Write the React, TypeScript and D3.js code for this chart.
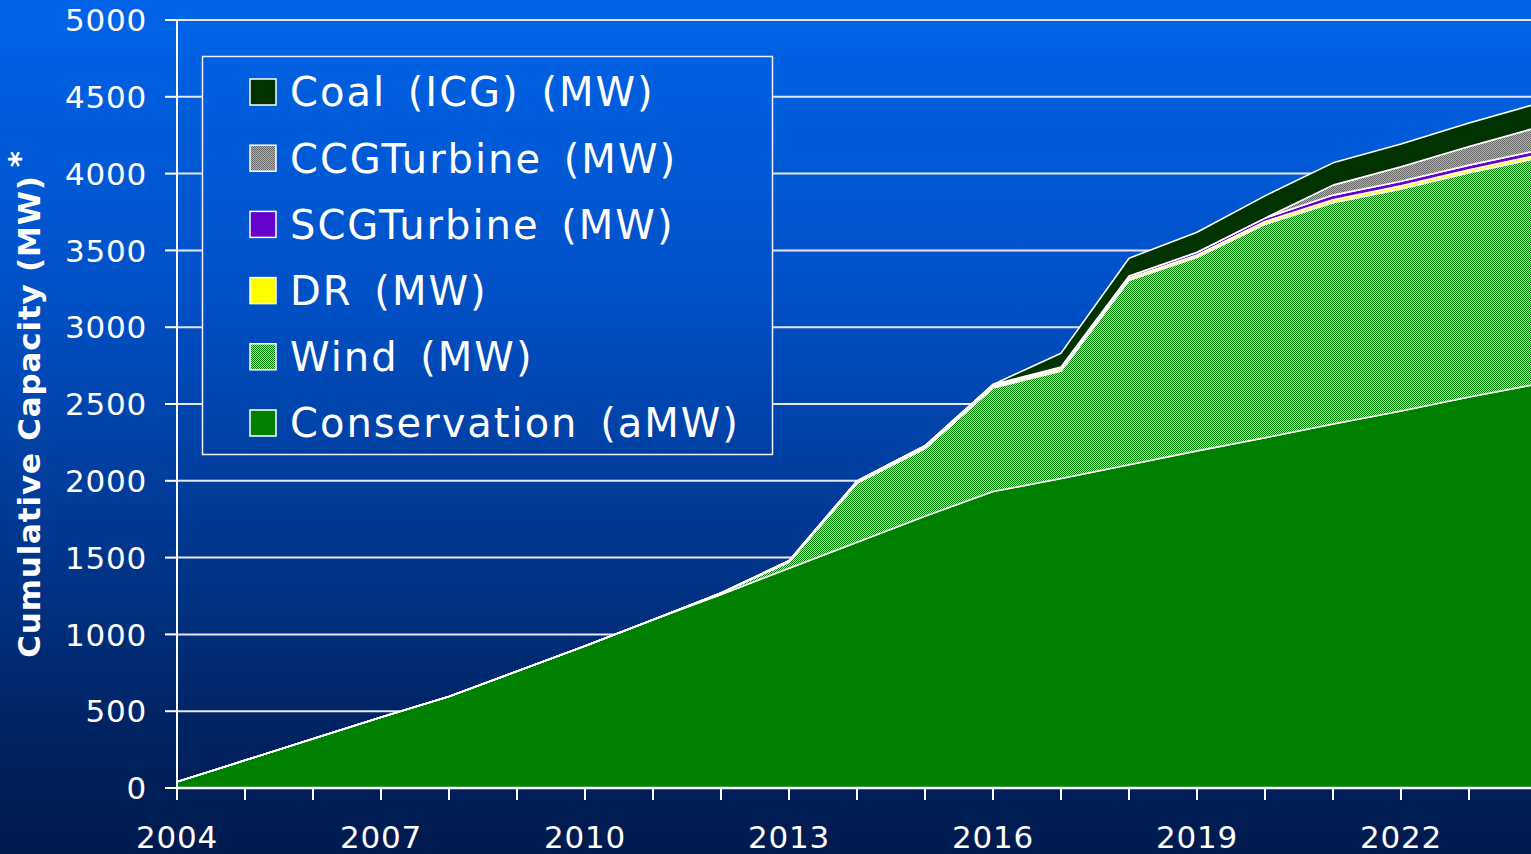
import React from "react";
import * as d3 from "d3";

const years = [2004, 2005, 2006, 2007, 2008, 2009, 2010, 2011, 2012, 2013, 2014, 2015, 2016, 2017, 2018, 2019, 2020, 2021, 2022, 2023, 2024];
const conservation = [40, 180, 320, 460, 595, 760, 925, 1095, 1260, 1430, 1600, 1770, 1930, 2015, 2105, 2195, 2280, 2370, 2455, 2545, 2630];
const wind = [0, 0, 0, 0, 0, 0, 0, 0, 10, 40, 385, 440, 675, 700, 1200, 1260, 1390, 1440, 1445, 1460, 1470];
const dr = [0, 0, 0, 0, 0, 0, 0, 0, 0, 5, 8, 10, 12, 14, 15, 15, 18, 20, 20, 20, 20];
const scg = [0, 0, 0, 0, 0, 0, 0, 0, 0, 5, 6, 8, 10, 12, 14, 18, 22, 30, 30, 30, 30];
const ccg = [0, 0, 0, 0, 0, 0, 0, 0, 0, 0, 0, 0, 0, 0, 0, 0, 0, 65, 95, 122, 150];
const coal = [0, 0, 0, 0, 0, 0, 0, 0, 0, 0, 0, 0, 0, 90, 115, 130, 145, 145, 148, 152, 155];

const yTicks = [0, 500, 1000, 1500, 2000, 2500, 3000, 3500, 4000, 4500, 5000];
const xLabelYears = [2004, 2007, 2010, 2013, 2016, 2019, 2022];

const seriesKeys = ["conservation", "wind", "dr", "scg", "ccg", "coal"];
const legendItems = [
  { key: "coal", label: "Coal (ICG) (MW)" },
  { key: "ccg", label: "CCGTurbine (MW)" },
  { key: "scg", label: "SCGTurbine (MW)" },
  { key: "dr", label: "DR (MW)" },
  { key: "wind", label: "Wind (MW)" },
  { key: "conservation", label: "Conservation (aMW)" },
];
const fills: Record<string, string> = {
  conservation: "#008000",
  wind: "url(#windPat)",
  dr: "#ffff00",
  scg: "#6600cc",
  ccg: "url(#ccgPat)",
  coal: "#003300",
};

const W = 1531;
const H = 854;
const FONT = "'DejaVu Sans', Verdana, sans-serif";

export default function App() {
  const x = d3.scaleLinear().domain([2004, 2024]).range([177, 1537]);
  const y = d3.scaleLinear().domain([0, 5000]).range([788, 20]);

  const table = years.map((yr, i) => ({
    year: yr,
    conservation: conservation[i],
    wind: wind[i],
    dr: dr[i],
    scg: scg[i],
    ccg: ccg[i],
    coal: coal[i],
  }));
  const stacked = d3.stack<any>().keys(seriesKeys)(table);
  const area = d3
    .area<any>()
    .x((d) => x(d.data.year))
    .y0((d) => y(d[0]))
    .y1((d) => y(d[1]));

  const yearTicks = d3.range(2004, 2024);

  return (
    <svg width={W} height={H} style={{ position: "fixed", left: 0, top: 0 }} fontFamily={FONT}>
      <defs>
        <linearGradient id="bg" gradientUnits="userSpaceOnUse" x1="0" y1="0" x2="0" y2={H}>
          <stop offset="0" stopColor="#0064e8" />
          <stop offset="0.35" stopColor="#0050c6" />
          <stop offset="0.6" stopColor="#003a96" />
          <stop offset="0.85" stopColor="#002463" />
          <stop offset="1" stopColor="#001a4e" />
        </linearGradient>
        <pattern id="windPat" patternUnits="userSpaceOnUse" width="2" height="2">
          <rect width="2" height="2" fill="#bcd4bc" />
          <rect x="0" y="0" width="1" height="1" fill="#008000" />
          <rect x="1" y="1" width="1" height="1" fill="#008000" />
        </pattern>
        <pattern id="ccgPat" patternUnits="userSpaceOnUse" width="2" height="2">
          <rect width="2" height="2" fill="#b0b0b0" />
          <rect x="0" y="0" width="1" height="1" fill="#6a6a6a" />
          <rect x="1" y="1" width="1" height="1" fill="#6a6a6a" />
        </pattern>
        <clipPath id="plotClip">
          <rect x={177} y={0} width={W - 177} height={790} />
        </clipPath>
      </defs>
      <rect x={0} y={0} width={W} height={H} fill="url(#bg)" />

      {/* gridlines */}
      {yTicks.filter((t) => t > 0).map((t) => (
        <line key={t} x1={177} x2={W} y1={y(t)} y2={y(t)} stroke="#e8e8f0" strokeWidth={2} />
      ))}

      {/* areas */}
      <g clipPath="url(#plotClip)">
        {stacked.map((s) => (
          <path
            key={s.key}
            d={area(s as any) || ""}
            fill={fills[s.key]}
            stroke="#ffffff"
            strokeWidth={1.6}
            strokeLinejoin="round"
          />
        ))}
      </g>

      {/* y axis */}
      <line x1={177} x2={177} y1={y(5000)} y2={y(0)} stroke="#ffffff" strokeWidth={2} />
      {yTicks.map((t) => (
        <g key={t}>
          <line x1={165} x2={177} y1={y(t)} y2={y(t)} stroke="#ffffff" strokeWidth={2} />
          <text x={147} y={y(t)} dy="0.36em" textAnchor="end" fontSize={31} letterSpacing={0.8} fill="#ffffff">
            {t}
          </text>
        </g>
      ))}

      {/* x axis */}
      <line x1={177} x2={W} y1={y(0)} y2={y(0)} stroke="#ffffff" strokeWidth={2.5} />
      {yearTicks.map((t) => (
        <line key={t} x1={x(t)} x2={x(t)} y1={y(0)} y2={y(0) + 12} stroke="#ffffff" strokeWidth={2} />
      ))}
      {xLabelYears.map((t) => (
        <text key={t} x={x(t)} y={848} textAnchor="middle" fontSize={31} letterSpacing={0.8} fill="#ffffff">
          {t}
        </text>
      ))}

      {/* y title */}
      <text
        transform={`translate(40,404) rotate(-90)`}
        textAnchor="middle"
        fontSize={31}
        fontWeight="bold"
        letterSpacing={0.8}
        fill="#ffffff"
      >
        Cumulative Capacity (MW)
        <tspan dx="8" dy="-10">*</tspan>
      </text>

      {/* legend */}
      <rect x={202.5} y={56.5} width={570} height={398} fill="url(#bg)" stroke="#f0f0ff" strokeWidth={1.5} />
      {legendItems.map((it, i) => {
        const cy = 92 + i * 66.2;
        return (
          <g key={it.key}>
            <rect x={250} y={cy - 13} width={26} height={26} fill={fills[it.key]} stroke="#ffffff" strokeWidth={1.5} />
            <text x={290} y={cy} dy="0.36em" fontSize={40} letterSpacing={2} wordSpacing={7} fill="#ffffff">
              {it.label}
            </text>
          </g>
        );
      })}
    </svg>
  );
}
